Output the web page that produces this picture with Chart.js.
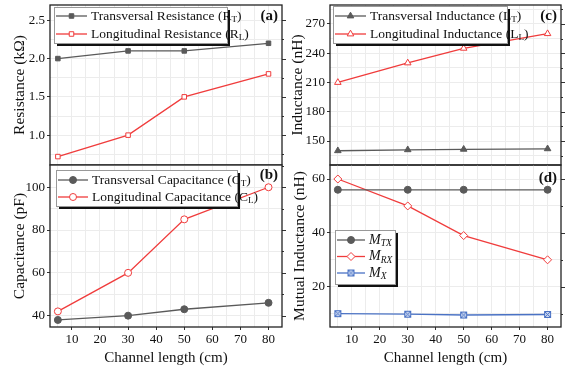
<!DOCTYPE html>
<html>
<head>
<meta charset="utf-8">
<script src="https://cdn.jsdelivr.net/npm/chart.js@4/dist/chart.umd.min.js"></script>
<style>
  body { margin: 0; background: #fff; }
  #wrap { position: relative; width: 574px; height: 371px; }
  canvas { position: absolute; }
</style>
</head>
<body>
<div id="wrap">
  <canvas id="chartA" width="287" height="166" style="left:0;top:0"></canvas>
  <canvas id="chartC" width="287" height="166" style="left:287px;top:0"></canvas>
  <canvas id="chartB" width="287" height="211" style="left:0;top:160px"></canvas>
  <canvas id="chartD" width="287" height="211" style="left:287px;top:160px"></canvas>
</div>
<script>
// channel lengths (cm)
const lengths = [5, 30, 50, 80];

// (a) resistance, kOhm
const resT = [2.0, 2.1, 2.1, 2.2];
const resL = [0.72, 1.0, 1.5, 1.8];
// (b) capacitance, pF
const capT = [38, 40, 43, 46];
const capL = [42, 60, 85, 100];
// (c) inductance, nH
const indT = [140, 141, 141.5, 142];
const indL = [210, 230, 245, 260];
// (d) mutual inductance, nH
const mTX = [56, 56, 56, 56];
const mRX = [60, 50, 39, 30];
const mX = [10, 9.8, 9.5, 9.7];

const FONT = "'Liberation Serif', 'Times New Roman', serif";
const GRAY = '#5a5a5a';
const RED = '#f03c3c';
const BLUE = '#4a72c4';

Chart.defaults.font.family = FONT;
Chart.defaults.color = '#111';

// square with a cross, for M_X
function crossSquare() {
  const c = document.createElement('canvas');
  c.width = 9; c.height = 9;
  const g = c.getContext('2d');
  g.strokeStyle = BLUE; g.lineWidth = 1;
  g.fillStyle = '#c9d6f0';
  g.fillRect(1, 1, 7, 7);
  g.strokeRect(1.5, 1.5, 6, 6);
  g.beginPath();
  g.moveTo(1.5, 1.5); g.lineTo(7.5, 7.5);
  g.moveTo(7.5, 1.5); g.lineTo(1.5, 7.5);
  g.stroke();
  return c;
}

function series(data, color, style, filled, radius) {
  return {
    data: lengths.map((x, i) => ({ x: x, y: data[i] })),
    borderColor: color,
    backgroundColor: filled ? color : '#fff',
    pointBorderColor: color,
    pointBackgroundColor: filled ? color : '#fff',
    pointStyle: style,
    pointRadius: radius || 3.5,
    pointBorderWidth: 1,
    borderWidth: 1.3,
    tension: 0,
    fill: false
  };
}

// draw "text_{sub}" with subscripts
function drawRich(ctx, str, x, y, size, italic) {
  const parts = str.split(/(_\{[^}]*\})/).filter(p => p);
  parts.forEach(p => {
    const sub = p.startsWith('_{');
    const t = sub ? p.slice(2, -1) : p;
    const fs = sub ? size * 0.68 : size;
    ctx.font = (italic ? 'italic ' : '') + fs + 'px ' + FONT;
    ctx.fillText(t, x, sub ? y + size * 0.28 : y);
    x += ctx.measureText(t).width;
  });
}

const isMajor = (v, major) => Number.isInteger(Math.round(v / major * 1000) / 1000);

const framePlugin = {
  id: 'frame',
  afterDatasetsDraw(chart, args, opts) {
    const { ctx, chartArea: a } = chart;
    ctx.save();
    // mirrored tick marks on the right edge
    const ys = chart.scales.y;
    ctx.strokeStyle = '#333';
    ctx.lineWidth = 1;
    ys.ticks.forEach(t => {
      const py = Math.round(ys.getPixelForValue(t.value)) + 0.5;
      const len = isMajor(t.value, opts.major) ? 4 : 2;
      ctx.beginPath();
      ctx.moveTo(a.right, py); ctx.lineTo(a.right + len, py);
      ctx.stroke();
    });
    // legend box with shadow
    const L = opts.legend;
    const bx = a.left + L.x, by = a.top + L.y;
    ctx.fillStyle = '#111';
    ctx.fillRect(bx + 3, by + 3, L.w, L.h);
    ctx.fillStyle = '#fff';
    ctx.fillRect(bx, by, L.w, L.h);
    ctx.strokeStyle = '#999';
    ctx.lineWidth = 1;
    ctx.strokeRect(bx + 0.5, by + 0.5, L.w, L.h);
    L.labels.forEach((lab, i) => {
      const ds = chart.data.datasets[i];
      const ry = by + L.first + i * L.gap;
      ctx.strokeStyle = ds.borderColor;
      ctx.lineWidth = 1.3;
      ctx.beginPath();
      ctx.moveTo(bx + 2, ry); ctx.lineTo(bx + L.line, ry);
      ctx.stroke();
      ctx.fillStyle = ds.pointBackgroundColor;
      ctx.strokeStyle = ds.pointBorderColor;
      ctx.lineWidth = 1;
      Chart.helpers.drawPoint(ctx, { pointStyle: ds.pointStyle, radius: ds.pointRadius, borderWidth: 1 },
        bx + 2 + (L.line - 2) / 2, ry);
      ctx.fillStyle = '#111';
      ctx.textBaseline = 'middle';
      ctx.textAlign = 'left';
      drawRich(ctx, lab, bx + L.line + 4, ry, L.size, L.italic);
    });
    // panel tag
    ctx.fillStyle = '#111';
    ctx.font = 'bold 15px ' + FONT;
    ctx.textAlign = 'right';
    ctx.textBaseline = 'middle';
    ctx.fillText(opts.tag, a.right - 4, a.top + opts.tagY);
    // frame
    ctx.strokeStyle = '#222';
    ctx.lineWidth = 1.3;
    ctx.strokeRect(a.left, a.top, a.right - a.left, a.bottom - a.top);
    ctx.restore();
  }
};

function makeChart(id, datasets, cfg) {
  const bottom = cfg.bottom;
  return new Chart(document.getElementById(id).getContext('2d'), {
    type: 'line',
    data: { datasets: datasets },
    plugins: [framePlugin],
    options: {
      responsive: false,
      animation: false,
      layout: { autoPadding: false, padding: { top: 5, right: cfg.right, bottom: bottom ? 0 : 1, left: 0 } },
      scales: {
        x: {
          type: 'linear',
          min: 2.2, max: 84.8,
          grid: {
            color: '#ececec', drawTicks: bottom, tickLength: 3,
            tickColor: c => (c.tick && isMajor(c.tick.value, 10) ? '#333' : 'rgba(0,0,0,0)')
          },
          border: { display: false },
          ticks: {
            display: bottom,
            includeBounds: false,
            stepSize: 5,
            maxTicksLimit: 100,
            autoSkip: false,
            maxRotation: 0,
            padding: 2,
            font: { family: FONT, size: 13 },
            callback: v => (Math.round(v) % 10 === 0 ? String(Math.round(v)) : '')
          },
          title: {
            display: bottom,
            text: 'Channel length (cm)',
            font: { family: FONT, size: 15 },
            padding: { top: 0, bottom: 4 }
          },
          afterFit: s => {
            s.height = bottom ? 44 : 0;
            s.paddingLeft = 0; s.paddingRight = 0;
          }
        },
        y: {
          min: cfg.min, max: cfg.max,
          grid: {
            color: '#ececec', tickLength: 3,
            tickColor: c => (c.tick && isMajor(c.tick.value, cfg.major) ? '#333' : 'rgba(0,0,0,0)')
          },
          border: { display: false },
          ticks: {
            includeBounds: false,
            stepSize: cfg.step,
            maxTicksLimit: 100,
            autoSkip: false,
            padding: 2,
            font: { family: FONT, size: 13 },
            callback: v => (isMajor(v, cfg.major) ? v.toFixed(cfg.dec) : '')
          },
          title: {
            display: true,
            text: cfg.title,
            font: { family: FONT, size: 15.5 },
            padding: { top: cfg.titlePad, bottom: 0 }
          },
          afterFit: s => {
            s.width = cfg.axisW;
            s.paddingTop = 0; s.paddingBottom = 0;
          }
        }
      },
      plugins: {
        legend: { display: false },
        tooltip: { enabled: false },
        frame: { legend: cfg.legend, tag: cfg.tag, tagY: cfg.tagY, major: cfg.major }
      }
    }
  });
}

makeChart('chartA', [
  series(resT, GRAY, 'rect', true, 3.2),
  series(resL, RED, 'rect', false, 3.2)
], {
  bottom: false, right: 5, min: 0.61, max: 2.7, step: 0.25, major: 0.5, dec: 1,
  title: 'Resistance (k\u03a9)', titlePad: 11, axisW: 50, tag: '(a)', tagY: 11,
  legend: { x: 4, y: 2, w: 173, h: 36, first: 9, gap: 18, line: 33, size: 13.5,
    labels: ['Transversal Resistance (R_{T})', 'Longitudinal Resistance (R_{L})'] }
});

makeChart('chartB', [
  series(capT, GRAY, 'circle', true, 3.5),
  series(capL, RED, 'circle', false, 3.5)
], {
  bottom: true, right: 5, min: 34.7, max: 110.4, step: 10, major: 20, dec: 0,
  title: 'Capacitance (pF)', titlePad: 11, axisW: 50, tag: '(b)', tagY: 10,
  legend: { x: 6, y: 5, w: 181, h: 36, first: 10, gap: 17, line: 32, size: 13.5,
    labels: ['Transversal Capacitance (C_{T})', 'Longitudinal Capacitance (C_{L})'] }
});

makeChart('chartC', [
  series(indT, GRAY, 'triangle', true, 3.8),
  series(indL, RED, 'triangle', false, 3.8)
], {
  bottom: false, right: 13, min: 125.4, max: 289.4, step: 15, major: 30, dec: 0,
  title: 'Inductance (nH)', titlePad: 2, axisW: 43, tag: '(c)', tagY: 11,
  legend: { x: 3, y: 1, w: 174, h: 37, first: 10, gap: 18, line: 33, size: 13.5,
    labels: ['Transversal Inductance (L_{T})', 'Longitudinal Inductance (L_{L})'] }
});

makeChart('chartD', [
  series(mTX, GRAY, 'circle', true, 3.5),
  series(mRX, RED, 'rectRot', false, 4),
  series(mX, BLUE, crossSquare(), false, 4.5)
], {
  bottom: true, right: 13, min: 5.05, max: 65.2, step: 10, major: 20, dec: 0,
  title: 'Mutual Inductance (nH)', titlePad: 4, axisW: 43, tag: '(d)', tagY: 13,
  legend: { x: 5, y: 65, w: 60, h: 54, first: 10, gap: 16.5, line: 30, size: 14, italic: true,
    labels: ['M_{TX}', 'M_{RX}', 'M_{X}'] }
});
</script>
</body>
</html>
